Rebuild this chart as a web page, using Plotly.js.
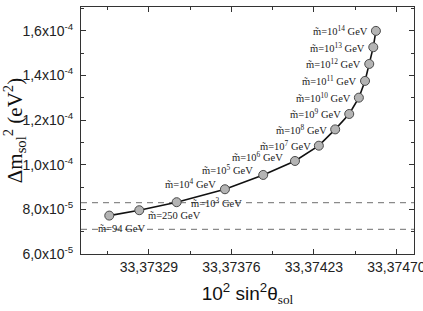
<!DOCTYPE html>
<html>
<head>
<meta charset="utf-8">
<script src="https://cdn.plot.ly/plotly-3.0.1.min.js"></script>
<style>
  html, body { margin: 0; padding: 0; background: #fff; overflow: hidden; }
  #chart { width: 423px; height: 311px; }
</style>
</head>
<body>
<div id="chart"></div>
<script>
// Soft-mass scan: mixing angle vs. solar mass splitting
const softMass = ['94', '250', '10<sup>3</sup>', '10<sup>4</sup>', '10<sup>5</sup>', '10<sup>6</sup>',
  '10<sup>7</sup>', '10<sup>8</sup>', '10<sup>9</sup>', '10<sup>10</sup>', '10<sup>11</sup>',
  '10<sup>12</sup>', '10<sup>13</sup>', '10<sup>14</sup>'];
const sin2Theta = [33.373064, 33.373235, 33.373448, 33.373723, 33.373941, 33.374122,
  33.374258, 33.374351, 33.374431, 33.374486, 33.374521, 33.374545, 33.374568, 33.374583];
const dm2Sol = [7.72e-5, 7.96e-5, 8.32e-5, 8.90e-5, 9.54e-5, 1.0165e-4,
  1.085e-4, 1.158e-4, 1.227e-4, 1.300e-4, 1.375e-4, 1.451e-4, 1.526e-4, 1.599e-4];

// Experimental band edges
const bandEdges = [8.3e-5, 7.1e-5];

// Axis tick values and labels
const xTickVals = [33.37329, 33.37376, 33.37423, 33.37470];
const xTickText = ['33,37329', '33,37376', '33,37423', '33,37470'];
const yTickVals = [6e-5, 8e-5, 1.0e-4, 1.2e-4, 1.4e-4, 1.6e-4];
const yTickText = ['6,0x10<sup>-5</sup>', '8,0x10<sup>-5</sup>', '1,0x10<sup>-4</sup>',
  '1,2x10<sup>-4</sup>', '1,4x10<sup>-4</sup>', '1,6x10<sup>-4</sup>'];

const xRange = [33.372903, 33.3748];
const yRange = [6e-5, 1.706e-4];

// Label placement (pixel offsets from each marker)
const labelPlace = [
  { anchor: 'center', dx: 12, dy: -13 },
  { anchor: 'left', dx: 7, dy: -5 },
  { anchor: 'left', dx: 12, dy: 0 },
  { anchor: 'right', dx: -7, dy: 6 },
  { anchor: 'right', dx: -8, dy: 5 },
  { anchor: 'right', dx: -10, dy: 4 },
  { anchor: 'right', dx: -6, dy: 0 },
  { anchor: 'right', dx: -6, dy: 0 },
  { anchor: 'right', dx: -6, dy: 0 },
  { anchor: 'right', dx: -6, dy: 0 },
  { anchor: 'right', dx: -6, dy: 0 },
  { anchor: 'right', dx: -6, dy: 0 },
  { anchor: 'right', dx: -6, dy: 0 },
  { anchor: 'right', dx: -6, dy: 0 }
];

const serif = '"Liberation Serif", "DejaVu Serif", serif';
const sans = '"Liberation Sans", Arial, sans-serif';

const traces = bandEdges.map(v => ({
  x: xRange, y: [v, v], mode: 'lines', type: 'scatter', hoverinfo: 'skip',
  line: { color: '#8a8a8a', width: 1.2, dash: '6px,5px' }, showlegend: false
}));

traces.push({
  x: sin2Theta, y: dm2Sol, mode: 'lines+markers', type: 'scatter', showlegend: false,
  line: { color: '#111', width: 1.6 },
  marker: { size: 9, color: '#b4b4b4', line: { color: '#4a4a4a', width: 1 } }
});

const annotations = softMass.map((m, i) => ({
  x: sin2Theta[i], y: dm2Sol[i], xref: 'x', yref: 'y', showarrow: false,
  text: 'm\u0303=' + m + ' GeV',
  xanchor: labelPlace[i].anchor, yanchor: 'middle',
  xshift: labelPlace[i].dx, yshift: labelPlace[i].dy,
  font: { family: serif, size: 10.5, color: '#222' }
}));

const axisCommon = {
  showline: true, linecolor: '#333', linewidth: 1, mirror: 'ticks',
  ticks: 'inside', ticklen: 5, tickcolor: '#333', showgrid: false, zeroline: false,
  tickfont: { family: sans, size: 14, color: '#222' }
};

const layout = {
  width: 423, height: 311,
  margin: { l: 81, r: 9, t: 7, b: 57 },
  paper_bgcolor: '#fff', plot_bgcolor: '#fff',
  showlegend: false,
  xaxis: Object.assign({}, axisCommon, {
    range: xRange, tickmode: 'array', tickvals: xTickVals, ticktext: xTickText,
    ticklabeloverflow: 'allow',
    minor: { dtick: 0.000235, tick0: 33.37329, ticks: 'inside', ticklen: 3, tickcolor: '#333' },
    title: {
      text: '10<sup>2</sup> sin<sup>2</sup>θ<sub><span style="font-family:Liberation Serif">sol</span></sub>',
      font: { family: sans, size: 19, color: '#111' }, standoff: 12
    }
  }),
  yaxis: Object.assign({}, axisCommon, {
    range: yRange, tickmode: 'array', tickvals: yTickVals, ticktext: yTickText,
    ticklabelstandoff: 4,
    minor: { dtick: 1e-5, tick0: 6e-5, ticks: 'inside', ticklen: 3, tickcolor: '#333' },
    title: {
      text: 'Δm<sub>sol</sub><sup>2</sup> (eV<sup>2</sup>)',
      font: { family: serif, size: 21, color: '#111' }, standoff: 6
    }
  }),
  annotations: annotations
};

Plotly.newPlot('chart', traces, layout, { staticPlot: true, displayModeBar: false });
</script>
</body>
</html>
